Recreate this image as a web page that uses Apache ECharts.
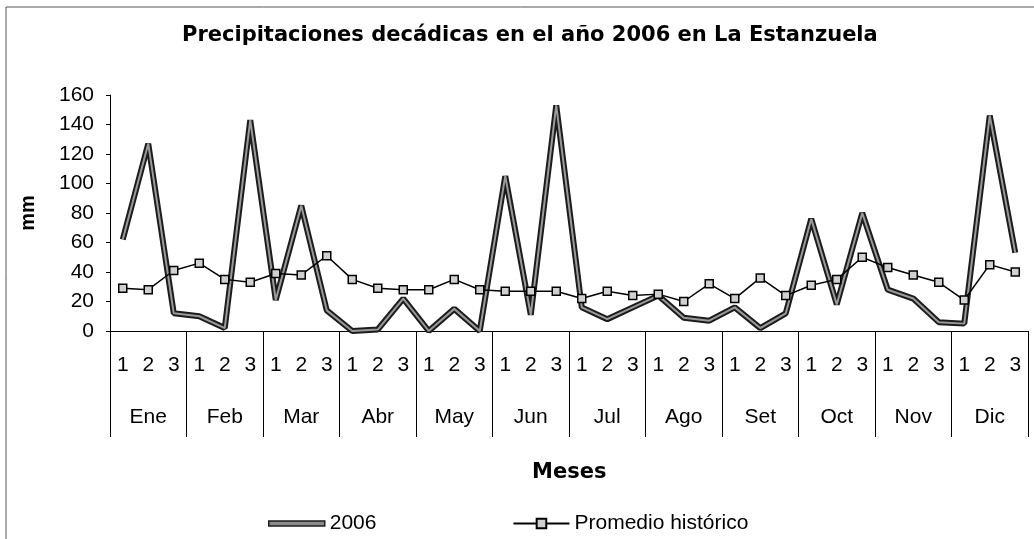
<!DOCTYPE html>
<html>
<head>
<meta charset="utf-8">
<title>Precipitaciones decádicas 2006</title>
<script src="https://cdn.jsdelivr.net/npm/echarts@6/dist/echarts.min.js"></script>
<style>
  html, body { margin: 0; padding: 0; background: #fff; }
  #chart { width: 1034px; height: 539px; }
</style>
</head>
<body>
<div id="chart"></div>
<script>
const meses = ['Ene', 'Feb', 'Mar', 'Abr', 'May', 'Jun', 'Jul', 'Ago', 'Set', 'Oct', 'Nov', 'Dic'];
const decadas = ['1', '2', '3', '1', '2', '3', '1', '2', '3', '1', '2', '3',
  '1', '2', '3', '1', '2', '3', '1', '2', '3', '1', '2', '3',
  '1', '2', '3', '1', '2', '3', '1', '2', '3', '1', '2', '3'];
const lluvia2006 = [62, 127, 12, 10, 2, 143, 21, 85, 14, 0, 1, 22,
  0, 15, 0, 105, 11, 153, 16, 8, 16, 24, 9, 7,
  16, 2, 12, 76, 18, 80, 28, 22, 6, 5, 146, 53];
const promedio = [29, 28, 41, 46, 35, 33, 39, 38, 51, 35, 29, 28,
  28, 35, 28, 27, 27, 27, 22, 27, 24, 25, 20, 32,
  22, 36, 24, 31, 35, 50, 43, 38, 33, 21, 45, 40];
const yTicks = { min: 0, max: 160, interval: 20 };

const chart = echarts.init(document.getElementById('chart'));
const fontTxt = '"Liberation Sans", Arial, sans-serif';
const fontBold = '"DejaVu Sans", "Liberation Sans", sans-serif';

const option = {
  animation: false,
  backgroundColor: '#fff',
  title: {
    text: 'Precipitaciones decádicas en el año 2006 en La Estanzuela',
    left: 177,
    top: 20,
    textStyle: { fontFamily: fontBold, fontWeight: 'bold', fontSize: 21, color: '#000' }
  },
  graphic: [
    {
      type: 'rect',
      shape: { x: 6, y: 7, width: 1040, height: 540 },
      style: { fill: 'none', stroke: '#555', lineWidth: 1 },
      silent: true
    },
    {
      type: 'text',
      left: 532,
      top: 462,
      style: { text: 'Meses', fontFamily: fontBold, fontWeight: 'bold', fontSize: 21, fill: '#000' }
    }
  ],
  legend: {
    data: [
      {
        name: '2006',
        icon: 'path://M0,0 L56,0 L56,5 L0,5 Z',
        itemStyle: { color: '#8a8a8a', borderColor: '#1c1c1c', borderWidth: 1.5 }
      },
      { name: 'Promedio histórico' }
    ],
    left: 263,
    top: 508,
    itemWidth: 56,
    itemHeight: 12,
    itemGap: 136,
    textStyle: { fontFamily: fontTxt, fontSize: 21, color: '#000' }
  },
  grid: { left: 110, right: 6, top: 95, bottom: 208 },
  xAxis: [
    {
      type: 'category',
      data: decadas,
      position: 'bottom',
      axisLine: { lineStyle: { color: '#000', width: 1 } },
      axisTick: { show: false },
      axisLabel: { color: '#000', fontFamily: fontTxt, fontSize: 21, margin: 24, interval: 0 }
    },
    {
      type: 'category',
      data: meses,
      position: 'bottom',
      axisLine: { show: false },
      axisTick: { show: true, length: 106, lineStyle: { color: '#000', width: 1 } },
      axisLabel: { color: '#000', fontFamily: fontTxt, fontSize: 21, margin: 76, interval: 0 }
    }
  ],
  yAxis: {
    type: 'value',
    min: yTicks.min,
    max: yTicks.max,
    interval: yTicks.interval,
    name: 'mm',
    nameLocation: 'middle',
    nameRotate: 90,
    nameGap: 72,
    nameTextStyle: { fontFamily: fontTxt, fontWeight: 'bold', fontSize: 20, color: '#000' },
    splitLine: { show: false },
    axisLine: { show: true, lineStyle: { color: '#000', width: 1 } },
    axisTick: { show: true, length: 4, lineStyle: { color: '#000' } },
    axisLabel: { color: '#000', fontFamily: fontTxt, fontSize: 21, margin: 16 }
  },
  series: [
    {
      name: '2006',
      type: 'line',
      data: lluvia2006,
      symbol: 'none',
      lineStyle: { color: '#1c1c1c', width: 6 },
      itemStyle: { color: '#1c1c1c' },
      z: 3
    },
    {
      name: '2006 interior',
      type: 'line',
      data: lluvia2006,
      symbol: 'none',
      silent: true,
      lineStyle: { color: '#9a9a9a', width: 2 },
      z: 4
    },
    {
      name: 'Promedio histórico',
      type: 'line',
      data: promedio,
      symbol: 'rect',
      symbolSize: 8,
      lineStyle: { color: '#000', width: 1.5 },
      itemStyle: { color: '#d0d0d0', borderColor: '#000', borderWidth: 1.5 },
      z: 5
    }
  ]
};
chart.setOption(option);

window.addEventListener('resize', () => chart.resize());
</script>
</body>
</html>
